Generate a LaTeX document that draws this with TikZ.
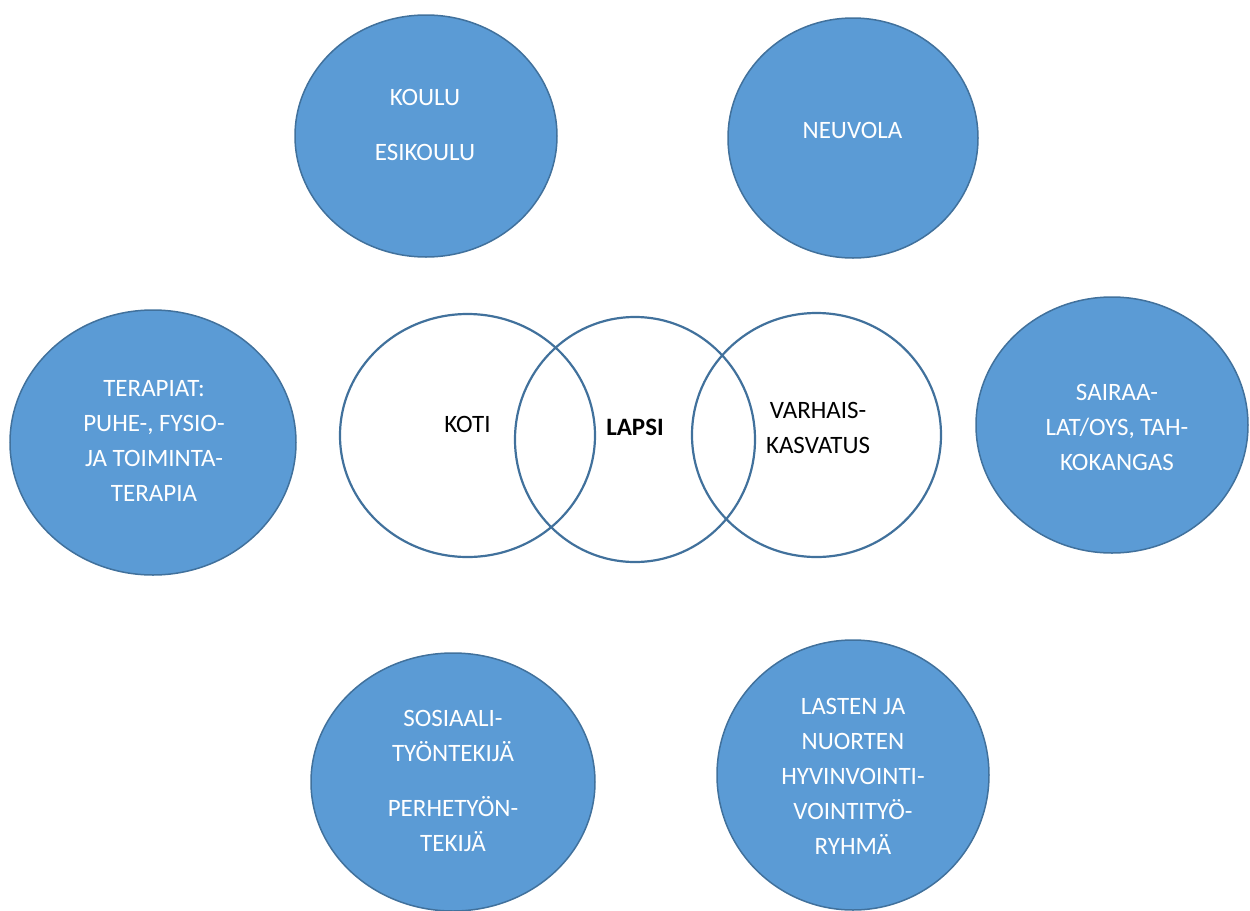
\documentclass[tikz,border=0pt]{standalone}
\usepackage{fontspec}
\setmainfont{Carlito}
\usepackage{tikz}
\usetikzlibrary{shapes.geometric}
\definecolor{bubblefill}{HTML}{5B9BD5}
\definecolor{bubbleline}{HTML}{41719C}
\begin{document}
\begin{tikzpicture}[x=0.5pt,y=0.5pt]
\tikzstyle{every node}+=[inner sep=0pt]
\tikzstyle{bubble}=[ellipse,draw=bubbleline,fill=bubblefill,line width=0.75pt]
\tikzstyle{ring}=[ellipse,draw=bubbleline,line width=1.1pt]
\tikzstyle{white text}=[text=white,align=center,font=\fontsize{12.5}{17.5}\selectfont]
\tikzstyle{dark text}=[text=black,align=center,font=\fontsize{12.5}{17.5}\selectfont]
\useasboundingbox (0,0) rectangle (1250,-911);
\node [bubble,minimum width=131pt,minimum height=121pt] (koulu) at (426,-136) {};
\node [bubble,minimum width=125pt,minimum height=120pt] (neuvola) at (853,-138) {};
\node [bubble,minimum width=143pt,minimum height=132.5pt] (terapia) at (153,-442.5) {};
\node [bubble,minimum width=136pt,minimum height=128pt] (sairaala) at (1112,-425) {};
\node [bubble,minimum width=142pt,minimum height=129pt] (sosiaali) at (453,-782) {};
\node [bubble,minimum width=136pt,minimum height=135pt] (lasten) at (853,-775) {};
\node [ring,minimum width=127.5pt,minimum height=121.5pt] (koti) at (467.5,-435.5) {};
\node [ring,minimum width=120pt,minimum height=122.5pt] (lapsi) at (635,-439.5) {};
\node [ring,minimum width=124.5pt,minimum height=122pt] (varhais) at (816.5,-435) {};
\node [white text] (kouluText) at (425,-125) {KOULU\\[10pt]ESIKOULU};
\node [white text] (neuvolaText) at (852.5,-130) {NEUVOLA};
\node [white text] (terapiaText) at (154,-441) {TERAPIAT:\\PUHE-, FYSIO-\\JA TOIMINTA-\\TERAPIA};
\node [white text] (sairaalaText) at (1117,-427.5) {SAIRAA-\\LAT/OYS, TAH-\\KOKANGAS};
\node [white text] (sosiaaliText) at (453,-781) {SOSIAALI-\\TYÖNTEKIJÄ\\[10pt]PERHETYÖN-\\TEKIJÄ};
\node [white text] (lastenText) at (853,-776.5) {LASTEN JA\\NUORTEN\\HYVINVOINTI-\\VOINTITYÖ-\\RYHMÄ};
\node [dark text] (kotiText) at (467.5,-424.5) {KOTI};
\node [dark text,font=\fontsize{12.5}{17.5}\selectfont\bfseries] (lapsiText) at (635,-427.5) {LAPSI};
\node [dark text] (varhaisText) at (818,-428) {VARHAIS-\\KASVATUS};
\end{tikzpicture}
\end{document}
